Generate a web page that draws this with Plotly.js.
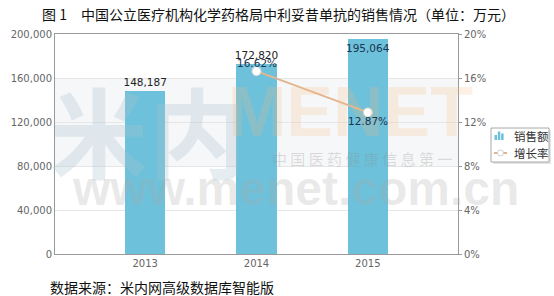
<!DOCTYPE html>
<html>
<head>
<meta charset="utf-8">
<script src="https://cdn.plot.ly/plotly-3.0.1.min.js"></script>
<style>html,body{margin:0;padding:0;background:#fff;}#chart{width:554px;height:296px;}</style>
</head>
<body>
<div id="chart"></div>
<script>
const years = ['2013', '2014', '2015'];
const sales = [148187, 172820, 195064];
const growthYears = ['2014', '2015'];
const growth = [16.62, 12.87];
const salesTickVals = [0, 40000, 80000, 120000, 160000, 200000];
const growthTickVals = [0, 4, 8, 12, 16, 20];
const growthTickText = ['0%', '4%', '8%', '12%', '16%', '20%'];

const titleText = '图 1　中国公立医疗机构化学药格局中利妥昔单抗的销售情况（单位：万元）';
const sourceText = '数据来源：米内网高级数据库智能版';
const seriesNames = ['销售额', '增长率'];

const barColor = '#6dc1da';
const lineColor = '#e3b58f';
const tickFont = {family: 'DejaVu Sans', size: 10, color: '#666'};
const cjk = 'Noto Sans CJK SC';

const bars = {
  type: 'bar',
  name: seriesNames[0],
  x: years,
  y: sales,
  width: 0.36,
  marker: {color: barColor},
  text: sales.map(v => v.toLocaleString('en-US')),
  textposition: ['outside', 'outside', 'inside'],
  insidetextanchor: 'end',
  constraintext: 'none',
  textangle: 0,
  cliponaxis: false,
  textfont: {family: 'DejaVu Sans', size: 10.5, color: '#222'},
  insidetextfont: {family: 'DejaVu Sans', size: 10.5, color: '#1c3550'},
  hoverinfo: 'skip'
};

const line = {
  type: 'scatter',
  mode: 'lines+markers',
  name: seriesNames[1],
  x: growthYears,
  y: growth,
  yaxis: 'y2',
  line: {color: lineColor, width: 2},
  marker: {color: '#ffffff', size: 9, line: {color: '#d6d6d6', width: 1}},
  cliponaxis: false,
  hoverinfo: 'skip'
};

const wm = [
  {text: '<b>米内</b>', x: 148, y: 128, size: 98, color: 'rgba(170,195,210,0.30)', family: cjk},
  {text: '<b>MENET</b>', x: 350, y: 112, size: 70, color: 'rgba(245,185,130,0.22)', family: 'Liberation Sans'},
  {text: '中 国 医 药 健 康 信 息 第 一', x: 362, y: 158, size: 15, color: 'rgba(140,140,140,0.28)', family: cjk},
  {text: '<b>www.menet.com.cn</b>', x: 295, y: 188, size: 48, color: 'rgba(170,170,170,0.26)', family: 'Liberation Sans'}
];

const L = 55, R = 458, T = 34, B = 254;
const px = x => (x - L) / (R - L);
const py = y => (B - y) / (B - T);

const annotations = wm.map(w => ({
  text: w.text, xref: 'paper', yref: 'paper', x: px(w.x), y: py(w.y),
  xanchor: 'center', yanchor: 'middle', showarrow: false,
  font: {family: w.family, size: w.size, color: w.color}
}));
const labelShift = [8, -9];
growth.forEach((v, i) => annotations.push({
  text: v.toFixed(2) + '%', xref: 'x', yref: 'y2', x: years.indexOf(growthYears[i]), y: v,
  yshift: labelShift[i], xanchor: 'center', yanchor: 'middle', showarrow: false,
  font: {family: 'DejaVu Sans', size: 10.5, color: '#1c3550'}
}));
annotations.push({
  text: sourceText, xref: 'paper', yref: 'paper', x: px(48), y: py(287),
  xanchor: 'left', yanchor: 'middle', showarrow: false,
  font: {family: cjk, size: 14, color: '#111'}
});
// legend entries (text)
[[seriesNames[0], 135.5], [seriesNames[1], 153]].forEach(([t, y]) => annotations.push({
  text: t, xref: 'paper', yref: 'paper', x: px(512), y: py(y),
  xanchor: 'left', yanchor: 'middle', showarrow: false,
  font: {family: cjk, size: 11.5, color: '#333'}
}));

const rectP = (x0, y0, x1, y1, fill, lineSpec) => ({
  type: 'rect', xref: 'paper', yref: 'paper',
  x0: px(x0), x1: px(x1), y0: py(y1), y1: py(y0),
  fillcolor: fill, line: lineSpec || {width: 0}
});

const shapes = [
  {type: 'rect', xref: 'paper', yref: 'y', x0: 0, x1: 1, y0: 80000, y1: 160000,
   fillcolor: 'rgba(238,241,243,0.55)', line: {width: 0}, layer: 'below'},
  // legend box with soft shadow
  rectP(493, 130, 551, 164, 'rgba(0,0,0,0.10)'),
  rectP(491, 128, 549, 162, '#ffffff', {color: '#a8a8a8', width: 1}),
  // bar icon
  rectP(494.5, 135, 497, 140, barColor),
  rectP(497.8, 131.5, 500.3, 140, barColor),
  rectP(501.1, 133.5, 503.6, 140, barColor),
  // line icon
  {type: 'line', xref: 'paper', yref: 'paper', x0: px(494), x1: px(507), y0: py(153), y1: py(153),
   line: {color: lineColor, width: 2}},
  {type: 'circle', xref: 'paper', yref: 'paper', x0: px(497.5), x1: px(503.5), y0: py(156), y1: py(150),
   fillcolor: '#ffffff', line: {color: '#cfcfcf', width: 1}}
];

const layout = {
  width: 554, height: 296,
  margin: {l: L, r: 554 - R, t: T, b: 296 - B, pad: 0, autoexpand: false},
  paper_bgcolor: '#fff', plot_bgcolor: '#fff',
  title: {
    text: titleText, xref: 'container', yref: 'container',
    x: 42 / 554, xanchor: 'left', y: 1 - 15 / 296, yanchor: 'middle',
    font: {family: cjk, size: 14, color: '#111'}
  },
  showlegend: false,
  xaxis: {
    type: 'category', range: [-0.81, 2.81],
    showline: true, linecolor: '#999', linewidth: 1, mirror: true,
    ticks: '', tickfont: tickFont, showgrid: false, fixedrange: true
  },
  yaxis: {
    range: [0, 200000], tickvals: salesTickVals, tickformat: ',d',
    showline: true, linecolor: '#999', linewidth: 1,
    gridcolor: '#e6e6e6', gridwidth: 1, zeroline: false,
    ticks: '', tickfont: tickFont, fixedrange: true
  },
  yaxis2: {
    overlaying: 'y', side: 'right', range: [0, 20],
    tickmode: 'array', tickvals: growthTickVals, ticktext: growthTickText,
    showline: true, linecolor: '#999', linewidth: 1,
    showgrid: false, zeroline: false, ticks: 'outside', ticklen: 3, tickcolor: '#999',
    tickfont: tickFont, fixedrange: true
  },
  shapes: shapes,
  annotations: annotations,
  bargap: 0
};

Plotly.newPlot('chart', [bars, line], layout, {displayModeBar: false, staticPlot: true});
</script>
</body>
</html>
